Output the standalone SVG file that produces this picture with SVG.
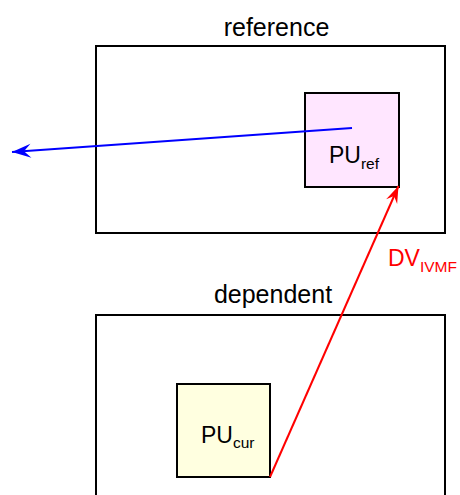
<svg xmlns="http://www.w3.org/2000/svg" width="460" height="495" viewBox="0 0 460 495">
<style>
.frame{fill:none;stroke:#000;stroke-width:2}
.pu{stroke:#000;stroke-width:2}
.lbl{font-family:"Liberation Sans",Arial,sans-serif;fill:#000}
.title{font-size:25px}
.big{font-size:23px}
.sub{font-size:15.5px}
</style>
<defs>
<marker id="ahB" markerUnits="userSpaceOnUse" markerWidth="24" markerHeight="16" viewBox="-20 -8 22 16" refX="0" refY="0" orient="auto">
<path d="M0,0 L-19,-7 L-12,0 L-19,7 Z" fill="#0000ff"/>
</marker>
<marker id="ahR" markerUnits="userSpaceOnUse" markerWidth="24" markerHeight="16" viewBox="-20 -8 22 16" refX="0" refY="0" orient="auto">
<path d="M0,0 L-17,-6 L-11,0 L-17,6 Z" fill="#ff0000"/>
</marker>
</defs>
<g id="reference">
<rect class="frame" x="96" y="46" width="349" height="187"/>
<text class="lbl title" x="276.5" y="35.5" text-anchor="middle">reference</text>
</g>
<g id="dependent">
<rect class="frame" x="96" y="315" width="349" height="190"/>
<text class="lbl title" x="273" y="303" text-anchor="middle">dependent</text>
</g>
<g id="pu_ref">
<rect class="pu" x="305" y="93" width="94" height="94" fill="#ffe6ff"/>
<text class="lbl" x="329" y="163"><tspan class="big">PU</tspan><tspan class="sub" dy="6">ref</tspan></text>
</g>
<g id="pu_cur">
<rect class="pu" x="177" y="384" width="93" height="93" fill="#ffffe0"/>
<text class="lbl" x="201" y="443"><tspan class="big">PU</tspan><tspan class="sub" dy="5">cur</tspan></text>
</g>
<g id="connectors">
<line x1="352" y1="128" x2="12" y2="152" stroke="#0000ff" stroke-width="2" marker-end="url(#ahB)"/>
<line x1="270" y1="477" x2="398.5" y2="186" stroke="#ff0000" stroke-width="2" marker-end="url(#ahR)"/>
<text class="lbl" x="388" y="266" style="fill:#ff0000"><tspan class="big">DV</tspan><tspan class="sub" dy="6">IVMF</tspan></text>
</g>
</svg>
